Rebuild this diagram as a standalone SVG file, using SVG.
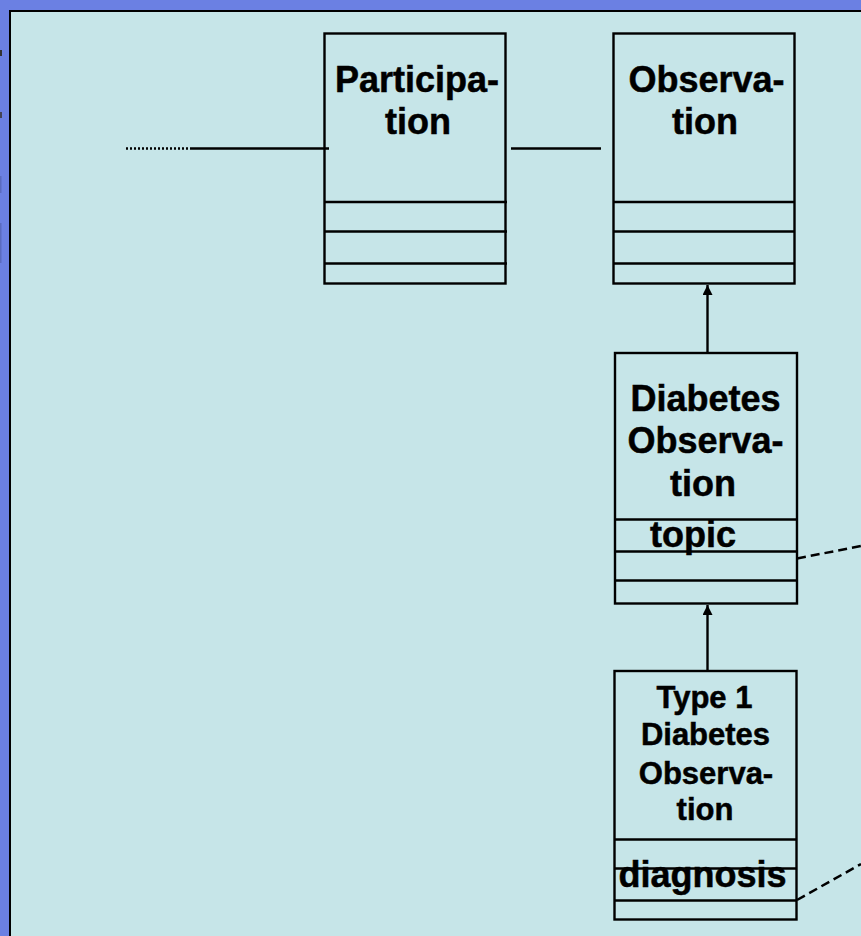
<svg xmlns="http://www.w3.org/2000/svg" width="861" height="936" viewBox="0 0 861 936">
  <style>
    .box { fill: none; stroke: #000; stroke-width: 2.4; }
    .div { stroke: #000; stroke-width: 2.4; }
    .lbl { font-family: "Liberation Sans", Arial, sans-serif; font-weight: bold; fill: #000; stroke: #000; stroke-width: 0.5; text-anchor: middle; }
    .big { font-size: 36px; }
    .small { font-size: 31px; }
    .assoc { stroke: #000; stroke-width: 2.4; fill: none; }
    .dash { stroke: #000; stroke-width: 2.5; fill: none; stroke-dasharray: 9 5; }
  </style>
  <defs>
    <marker id="tri" viewBox="0 0 10 10" refX="10" refY="5" markerWidth="10" markerHeight="10" markerUnits="userSpaceOnUse" orient="auto">
      <path d="M0,0 L10,5 L0,10 z" fill="#000"/>
    </marker>
  </defs>

  <!-- slide background and content panel -->
  <rect x="0" y="0" width="861" height="936" fill="#6b80e3"/>
  <rect x="10" y="11" width="860" height="940" fill="#c6e5e8" stroke="#000" stroke-width="2"/>
  <!-- clipped marks at the far left edge -->
  <rect x="0" y="50" width="2" height="6" fill="#333"/>
  <rect x="0" y="112" width="2" height="6" fill="#445"/>
  <rect x="0" y="176" width="1.5" height="17" fill="#5a6bc0"/>
  <rect x="0" y="223" width="1.5" height="40" fill="#5a6bc0"/>

  <!-- connectors -->
  <g id="connectors">
    <line x1="126" y1="148.5" x2="190" y2="148.5" stroke="#000" stroke-width="2.4" stroke-dasharray="2 2"/>
    <line class="assoc" x1="190" y1="148.5" x2="329" y2="148.5"/>
    <line class="assoc" x1="511" y1="148.5" x2="601" y2="148.5"/>
    <line class="assoc" x1="707.5" y1="353" x2="707.5" y2="285" marker-end="url(#tri)"/>
    <line class="assoc" x1="707.5" y1="671" x2="707.5" y2="605" marker-end="url(#tri)"/>
    <line class="dash" x1="797" y1="558.5" x2="861" y2="546"/>
    <line class="dash" x1="797" y1="900" x2="861" y2="864"/>
  </g>

  <!-- Participation class -->
  <g id="participation">
    <rect class="box" x="324.5" y="33.5" width="181" height="250"/>
    <line class="div" x1="324.5" y1="202" x2="507" y2="202"/>
    <line class="div" x1="324.5" y1="231.5" x2="507" y2="231.5"/>
    <line class="div" x1="324.5" y1="263.5" x2="507" y2="263.5"/>
    <text class="lbl big" x="417" y="91.5">Participa-</text>
    <text class="lbl big" x="418" y="133.5">tion</text>
  </g>

  <!-- Observation class -->
  <g id="observation">
    <rect class="box" x="613.5" y="33.5" width="181" height="250"/>
    <line class="div" x1="613.5" y1="202" x2="794.5" y2="202"/>
    <line class="div" x1="613.5" y1="231.5" x2="794.5" y2="231.5"/>
    <line class="div" x1="613.5" y1="263.5" x2="794.5" y2="263.5"/>
    <text class="lbl big" x="706.5" y="91.5">Observa-</text>
    <text class="lbl big" x="705" y="133.5">tion</text>
  </g>

  <!-- Diabetes Observation class -->
  <g id="diabetes-observation">
    <rect class="box" x="615" y="353" width="182" height="250.5"/>
    <line class="div" x1="615" y1="519.5" x2="797" y2="519.5"/>
    <line class="div" x1="615" y1="551.5" x2="797" y2="551.5"/>
    <line class="div" x1="615" y1="580.5" x2="797" y2="580.5"/>
    <text class="lbl big" x="705.5" y="410.5">Diabetes</text>
    <text class="lbl big" x="705.5" y="453">Observa-</text>
    <text class="lbl big" x="703" y="496">tion</text>
    <text class="lbl big" x="650" y="546.5" style="text-anchor:start">topic</text>
  </g>

  <!-- Type 1 Diabetes Observation class -->
  <g id="type1-diabetes-observation">
    <rect class="box" x="614.5" y="671" width="182" height="248.5"/>
    <line class="div" x1="614.5" y1="839.5" x2="796.5" y2="839.5"/>
    <line class="div" x1="614.5" y1="868.5" x2="796.5" y2="868.5"/>
    <line class="div" x1="614.5" y1="900.5" x2="796.5" y2="900.5"/>
    <text class="lbl small" x="704.5" y="707.5">Type 1</text>
    <text class="lbl small" x="705.5" y="745">Diabetes</text>
    <text class="lbl small" x="706" y="783.5">Observa-</text>
    <text class="lbl small" x="705" y="820">tion</text>
    <text class="lbl big" x="618.5" y="886.5" style="text-anchor:start">diagnosis</text>
  </g>
</svg>
